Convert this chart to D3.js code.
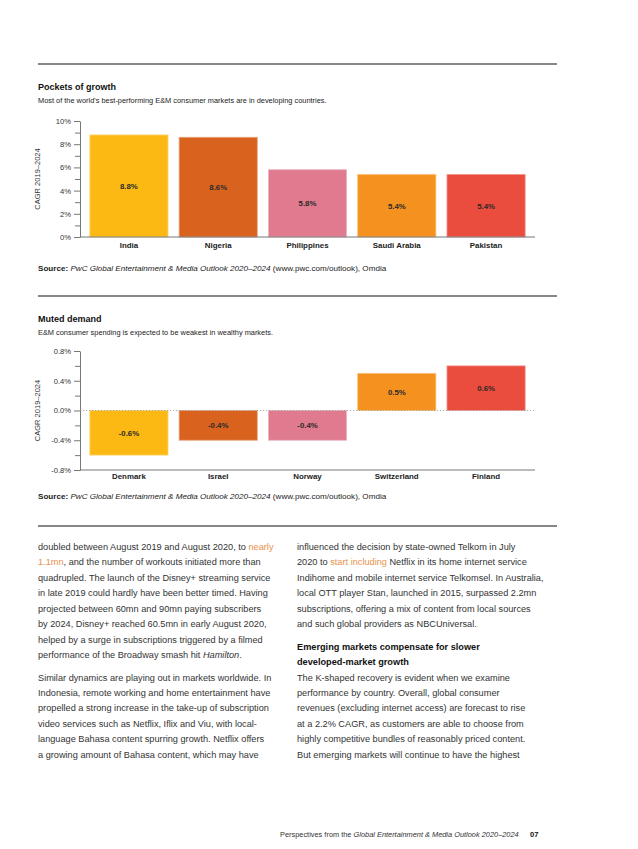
<!DOCTYPE html>
<html><head><meta charset="utf-8">
<script src="https://cdn.jsdelivr.net/npm/d3@7"></script>
<style>
html,body{margin:0;padding:0;background:#fff;}
svg{display:block;font-family:"Liberation Sans",Arial,Helvetica,sans-serif;}
</style></head>
<body>
<script>
// ---- Data ----
const cats1 = ["India", "Nigeria", "Philippines", "Saudi Arabia", "Pakistan"];
const vals1 = [8.8, 8.6, 5.8, 5.4, 5.4];
const ticks1 = [0, 2, 4, 6, 8, 10];
const minor1 = [1, 3, 5, 7, 9];

const cats2 = ["Denmark", "Israel", "Norway", "Switzerland", "Finland"];
const vals2 = [-0.6, -0.4, -0.4, 0.5, 0.6];
const ticks2 = [-0.8, -0.4, 0, 0.4, 0.8];
const minor2 = [-0.6, -0.2, 0.2, 0.6];

const barColors = ["#FDB913", "#D9621F", "#E07A8F", "#F5921F", "#EA4C3E"];

const W = 638, H = 849;
const svg = d3.select("body").append("svg").attr("width", W).attr("height", H);
svg.append("rect").attr("width", W).attr("height", H).attr("fill", "#fff");

const L = 38, R = 557;
function rule(y){ svg.append("line").attr("x1", L).attr("x2", R).attr("y1", y).attr("y2", y).attr("stroke", "#111").attr("stroke-width", 1.1); }

function header(y, title, sub){
  svg.append("text").attr("x", L).attr("y", y).attr("font-size", 9).attr("font-weight", "bold").attr("fill", "#111").text(title);
  svg.append("text").attr("x", L).attr("y", y + 13).attr("font-size", 7.4).attr("fill", "#222").text(sub);
}
function source(y){
  const t = svg.append("text").attr("x", L).attr("y", y).attr("font-size", 8.1).attr("fill", "#222");
  t.append("tspan").attr("font-weight", "bold").text("Source: ");
  t.append("tspan").attr("font-style", "italic").text("PwC Global Entertainment & Media Outlook 2020–2024");
  t.append("tspan").text(" (www.pwc.com/outlook), Omdia");
}

function chart(opts){
  const {cats, vals, domain, ticks, minor, top, bottom, fmt, valFmt, labelY, zeroDotted} = opts;
  const x0 = 80, x1 = 535;
  const x = d3.scaleBand().domain(cats).range([x0, x1]).paddingInner(0.124).paddingOuter(0.11);
  const y = d3.scaleLinear().domain(domain).range([bottom, top]);
  const g = svg.append("g");

  // bars
  g.selectAll("rect.bar").data(cats).join("rect")
    .attr("x", d => x(d)).attr("width", x.bandwidth())
    .attr("y", (d, i) => Math.min(y(vals[i]), y(0)))
    .attr("height", (d, i) => Math.abs(y(vals[i]) - y(0)))
    .attr("fill", (d, i) => barColors[i])
    .attr("stroke", (d, i) => d3.interpolateRgb(barColors[i], "#fff")(0.45))
    .attr("stroke-width", 0.8);

  // value labels
  g.selectAll("text.val").data(cats).join("text")
    .attr("x", d => x(d) + x.bandwidth() / 2)
    .attr("y", (d, i) => (y(vals[i]) + y(0)) / 2 + 3)
    .attr("text-anchor", "middle").attr("font-size", 7.8).attr("font-weight", "bold").attr("fill", "#2a2a2a")
    .text((d, i) => valFmt(vals[i]));

  // y axis
  const ax = d3.axisLeft(y).tickValues(ticks).tickSize(6).tickSizeOuter(0).tickPadding(3).tickFormat(fmt);
  const ag = g.append("g").attr("transform", `translate(${x0},0)`).call(ax);
  ag.select(".domain").attr("stroke", "#777");
  ag.selectAll(".tick line").attr("stroke", "#777");
  ag.selectAll(".tick text").attr("font-size", 7.6).attr("fill", "#333").attr("font-family", "Liberation Sans, Arial, sans-serif");
  const mg = g.append("g").attr("transform", `translate(${x0},0)`)
    .call(d3.axisLeft(y).tickValues(minor).tickSize(5).tickFormat(""));
  mg.select(".domain").remove();
  mg.selectAll(".tick line").attr("stroke", "#777");

  // baseline at bottom
  g.append("line").attr("x1", x0).attr("x2", x1).attr("y1", bottom).attr("y2", bottom).attr("stroke", "#777").attr("stroke-width", 1);
  if (zeroDotted){
    g.append("line").attr("x1", x0).attr("x2", x1).attr("y1", y(0)).attr("y2", y(0))
      .attr("stroke", "#999").attr("stroke-width", 0.8).attr("stroke-dasharray", "1.2,1.8");
  }

  // category labels
  g.selectAll("text.cat").data(cats).join("text")
    .attr("x", d => x(d) + x.bandwidth() / 2).attr("y", labelY)
    .attr("text-anchor", "middle").attr("font-size", 7.9).attr("font-weight", "bold").attr("fill", "#222")
    .text(d => d);

  // y title
  g.append("text").attr("transform", `translate(${40},${(top + bottom) / 2}) rotate(-90)`)
    .attr("text-anchor", "middle").attr("font-size", 7.5).attr("fill", "#333").text("CAGR 2019–2024");
}

// ---- Layout ----
rule(64);
header(90, "Pockets of growth", "Most of the world's best-performing E&M consumer markets are in developing countries.");
chart({cats: cats1, vals: vals1, domain: [0, 10], ticks: ticks1, minor: minor1, top: 121, bottom: 237,
  fmt: d => d3.format(".0f")(d) + "%", valFmt: d => d3.format(".1f")(d) + "%", labelY: 248, zeroDotted: false});
source(271);

rule(296);
header(322, "Muted demand", "E&M consumer spending is expected to be weakest in wealthy markets.");
const fmt2 = d => (d < 0 ? "-" : "") + d3.format(".1f")(Math.abs(d)) + "%";
chart({cats: cats2, vals: vals2, domain: [-0.8, 0.8], ticks: ticks2, minor: minor2, top: 351, bottom: 470,
  fmt: fmt2, valFmt: fmt2, labelY: 479, zeroDotted: true});
source(499);

rule(526);

// ---- Body text ----
const orange = "#E8914B";
const leftCol = [
  [["doubled between August 2019 and August 2020, to "], ["nearly", "o"]],
  [["1.1mn", "o"], [", and the number of workouts initiated more than"]],
  [["quadrupled. The launch of the Disney+ streaming service"]],
  [["in late 2019 could hardly have been better timed. Having"]],
  [["projected between 60mn and 90mn paying subscribers"]],
  [["by 2024, Disney+ reached 60.5mn in early August 2020,"]],
  [["helped by a surge in subscriptions triggered by a filmed"]],
  [["performance of the Broadway smash hit "], ["Hamilton", "i"], ["."]],
  null,
  [["Similar dynamics are playing out in markets worldwide. In"]],
  [["Indonesia, remote working and home entertainment have"]],
  [["propelled a strong increase in the take-up of subscription"]],
  [["video services such as Netflix, Iflix and Viu, with local-"]],
  [["language Bahasa content spurring growth. Netflix offers"]],
  [["a growing amount of Bahasa content, which may have"]]
];
const rightCol = [
  [["influenced the decision by state-owned Telkom in July"]],
  [["2020 to "], ["start including", "o"], [" Netflix in its home internet service"]],
  [["Indihome and mobile internet service Telkomsel. In Australia,"]],
  [["local OTT player Stan, launched in 2015, surpassed 2.2mn"]],
  [["subscriptions, offering a mix of content from local sources"]],
  [["and such global providers as NBCUniversal."]],
  null,
  [["Emerging markets compensate for slower", "b"]],
  [["developed-market growth", "b"]],
  [["The K-shaped recovery is evident when we examine"]],
  [["performance by country. Overall, global consumer"]],
  [["revenues (excluding internet access) are forecast to rise"]],
  [["at a 2.2% CAGR, as customers are able to choose from"]],
  [["highly competitive bundles of reasonably priced content."]],
  [["But emerging markets will continue to have the highest"]]
];
function column(lines, x, y0, lh){
  let y = y0;
  lines.forEach(line => {
    if (line === null){ y += lh * 0.45; return; }
    const t = svg.append("text").attr("x", x).attr("y", y).attr("font-size", 9.2).attr("fill", "#333");
    line.forEach(([s, st]) => {
      const sp = t.append("tspan").text(s);
      if (st === "o") sp.attr("fill", orange);
      if (st === "i") sp.attr("font-style", "italic");
      if (st === "b") sp.attr("font-weight", "bold").attr("fill", "#111");
    });
    y += lh;
  });
}
column(leftCol, 38, 550, 15.45);
column(rightCol, 297, 550, 15.45);

// ---- Footer ----
const ft = svg.append("text").attr("x", 280).attr("y", 837).attr("font-size", 7.4).attr("fill", "#333");
ft.append("tspan").text("Perspectives from the ");
ft.append("tspan").attr("font-style", "italic").text("Global Entertainment & Media Outlook 2020–2024");
svg.append("text").attr("x", 530).attr("y", 837).attr("font-size", 7.6).attr("font-weight", "bold").attr("fill", "#111").text("07");
</script>
</body></html>
